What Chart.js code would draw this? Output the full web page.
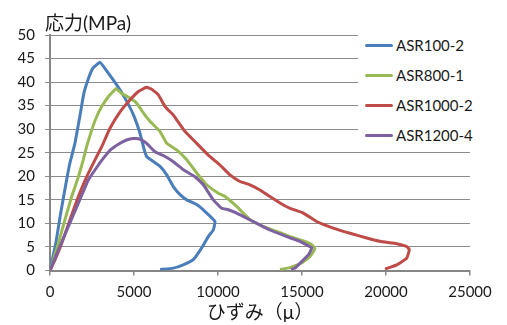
<!DOCTYPE html>
<html>
<head>
<meta charset="utf-8">
<script src="https://cdn.jsdelivr.net/npm/chart.js@4/dist/chart.umd.min.js"></script>
<style>
  body { margin: 0; background: #fff; }
  #wrap { position: relative; width: 507px; height: 325px; }
  #legend { position: absolute; left: 358px; top: 0; width: 149px; height: 147px; background: #fff; }
  .item { position: absolute; left: 0; height: 20px; font: 15px Lato, 'Noto Sans CJK JP', sans-serif; color: #1a1a1a; }
  .item span.ln { position: absolute; left: 7px; top: 9px; width: 28px; height: 3px; border-radius: 2px; }
  .item span.tx { position: absolute; left: 38px; top: 0; line-height: 20px; white-space: nowrap; }
</style>
</head>
<body>
<div id="wrap">
  <canvas id="myChart" width="507" height="325"></canvas>
  <div id="legend"></div>
</div>
<script>
// series names / colors
const seriesNames = ['ASR100-2', 'ASR800-1', 'ASR1000-2', 'ASR1200-4'];
const seriesColors = ['#4a7ebb', '#98b954', '#be4b48', '#7d60a0'];

// ひずみ (μ) and 応力 (MPa)
const asr100Strain = [0, 350, 600, 850, 1150, 1490, 1790, 2020, 2320, 2560, 2980, 3470, 3970, 4460, 4960, 5360, 5610, 5750, 5850, 6550, 6950, 7340, 7740, 8140, 8730, 9330, 9820, 9720, 9420, 9030, 8530, 7930, 7340, 6550];
const asr100Stress = [0, 5.9, 11.4, 16.5, 22.3, 27.1, 33.0, 37.7, 41.1, 43.0, 44.2, 41.9, 39.4, 36.6, 33.1, 29.1, 25.6, 24.2, 23.9, 22.1, 20.3, 17.8, 16.1, 15.0, 14.0, 12.2, 10.4, 8.6, 7.2, 4.8, 2.3, 1.2, 0.5, 0.2];

const asr800Strain = [0, 500, 890, 1290, 1690, 1980, 2180, 2480, 2780, 3080, 3470, 3930, 4260, 4760, 5160, 5650, 6050, 6550, 6950, 7540, 8140, 8730, 9330, 10020, 10420, 11110, 11900, 12700, 13490, 14290, 14880, 15300, 15580, 15770, 15480, 14980, 14290, 13690];
const asr800Stress = [0, 5.8, 10.8, 15.7, 19.9, 23.5, 26.3, 29.8, 32.7, 34.8, 36.9, 38.6, 37.6, 36.6, 35.5, 33.0, 31.3, 29.5, 27.0, 25.6, 23.5, 20.7, 18.2, 16.4, 15.7, 13.6, 10.8, 9.3, 8.3, 7.2, 6.5, 6.0, 5.5, 4.6, 3.0, 1.6, 0.6, 0.2];

const asr1000Strain = [0, 300, 700, 1190, 1690, 2180, 2680, 3080, 3570, 4170, 4760, 5260, 5750, 6050, 6450, 6850, 7340, 7540, 8040, 8730, 9420, 10120, 10710, 11310, 11900, 12500, 13090, 13890, 14290, 15080, 15870, 16860, 17860, 18850, 19640, 20640, 21230, 21390, 21230, 20640, 19940];
const asr1000Stress = [0, 2.3, 5.8, 10.8, 15.7, 19.9, 23.5, 26.3, 30.2, 33.7, 36.2, 38.0, 38.9, 38.5, 37.3, 34.8, 33.0, 32.0, 29.5, 27.0, 24.5, 22.4, 20.3, 18.9, 18.2, 17.1, 15.7, 13.9, 13.2, 12.2, 10.4, 9.0, 7.9, 6.9, 6.2, 5.7, 5.1, 4.4, 2.6, 1.2, 0.3];

const asr1200Strain = [0, 500, 1090, 1690, 2280, 2880, 3170, 3570, 4170, 4560, 4960, 5360, 5750, 6250, 6850, 7340, 7940, 8630, 9130, 9720, 10220, 10610, 11110, 12100, 13090, 14090, 14880, 15080, 15580, 15380, 14980, 14580, 14350];
const asr1200Stress = [0, 4.4, 9.3, 14.3, 19.2, 22.4, 23.8, 25.5, 27.0, 27.7, 28.0, 27.9, 27.0, 25.2, 24.2, 23.1, 21.4, 19.9, 18.2, 15.0, 13.2, 12.9, 12.2, 10.4, 8.6, 7.2, 6.2, 5.8, 4.8, 3.3, 1.9, 0.5, 0.2];

// axis ticks
const xTicks = [0, 5000, 10000, 15000, 20000, 25000];
const yTicks = [0, 5, 10, 15, 20, 25, 30, 35, 40, 45, 50];
const yTitle = '応力(MPa)';
const xTitle = 'ひずみ（μ）';

const allStrain = [asr100Strain, asr800Strain, asr1000Strain, asr1200Strain];
const allStress = [asr100Stress, asr800Stress, asr1000Stress, asr1200Stress];

const fontFam = "Lato, 'Noto Sans CJK JP', sans-serif";

const datasets = seriesNames.map((name, i) => ({
    label: name,
    data: allStrain[i].map((x, k) => ({ x: x, y: allStress[i][k] })),
    showLine: true,
    borderColor: seriesColors[i],
    backgroundColor: seriesColors[i],
    borderWidth: 3,
    pointRadius: 0,
    tension: 0.1,
    order: 4 - i
}));

// y title drawn horizontally above the axis
const topTitle = {
    id: 'topTitle',
    afterDraw(chart) {
        const c = chart.ctx;
        c.save();
        c.font = '19px ' + fontFam;
        c.fillStyle = '#1a1a1a';
        c.textBaseline = 'middle';
        c.textAlign = 'left';
        c.fillText(yTitle, chart.chartArea.left - 5, 24);
        c.restore();
    }
};

const ctx = document.getElementById('myChart');
new Chart(ctx, {
    type: 'scatter',
    data: { datasets: datasets },
    options: {
        responsive: false,
        animation: false,
        devicePixelRatio: 1,
        layout: { padding: { top: 35, right: 37, left: 0, bottom: 0 } },
        plugins: { legend: { display: false }, tooltip: { enabled: false } },
        scales: {
            x: {
                type: 'linear', min: 0, max: 25000,
                afterBuildTicks: s => { s.ticks = xTicks.map(v => ({ value: v })); },
                afterFit: s => { s.height = 54.5; },
                ticks: { color: '#1a1a1a', font: { family: fontFam, size: 15 }, padding: 8, maxRotation: 0,
                    callback: v => String(v) },
                grid: { drawOnChartArea: false, drawTicks: true, tickLength: 5, color: '#868686', lineWidth: 1.5 },
                border: { color: '#868686', width: 2 },
                title: { display: true, text: xTitle, color: '#1a1a1a', font: { family: fontFam, size: 19 }, padding: { top: 0, bottom: 1 } }
            },
            y: {
                type: 'linear', min: 0, max: 50,
                afterBuildTicks: s => { s.ticks = yTicks.map(v => ({ value: v })); },
                afterFit: s => { s.width = 50; },
                ticks: { color: '#1a1a1a', font: { family: fontFam, size: 15 }, padding: 10,
                    callback: v => String(v) },
                grid: { color: '#8c8c8c', lineWidth: 1, tickLength: 5 },
                border: { color: '#868686', width: 2 }
            }
        }
    },
    plugins: [topTitle]
});

// legend
const legend = document.getElementById('legend');
const rowCenters = [45, 75, 104.5, 134.5];
seriesNames.forEach((name, i) => {
    legend.innerHTML += `
    <div class="item" style="top:${rowCenters[i] - 10}px; width:149px">
        <span class="ln" style="background:${seriesColors[i]}"></span>
        <span class="tx">${name}</span>
    </div>`;
});
</script>
</body>
</html>
